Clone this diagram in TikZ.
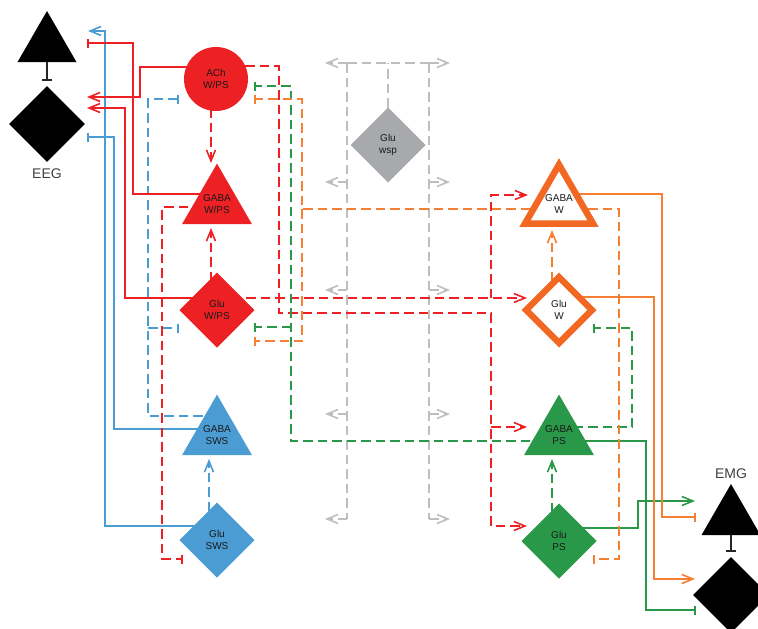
\documentclass[tikz,border=0pt]{standalone}
\usepackage{fontspec}
\setmainfont{Liberation Sans}
\usetikzlibrary{shapes.geometric,arrows.meta,calc}

\definecolor{ntred}{RGB}{237,32,36}
\definecolor{ntblue}{RGB}{75,156,211}
\definecolor{ntgreen}{RGB}{41,152,72}
\definecolor{ntorange}{RGB}{242,104,34}
\definecolor{ntorangeln}{RGB}{245,128,52}
\definecolor{ntgray}{RGB}{167,169,172}
\definecolor{ntgrayln}{RGB}{190,190,190}

\newcommand{\cellfont}{\fontsize{10}{11.5}\selectfont}

\pgfdeclarelayer{back}
\pgfsetlayers{back,main}

\begin{document}
\begin{tikzpicture}[x=1pt,y=-1pt,
    trinode/.style={regular polygon,regular polygon sides=3,minimum size=80.8pt,
      inner sep=0pt,outer sep=0pt,align=center,font=\cellfont,text=black!90},
    dianode/.style={diamond,minimum width=75pt,minimum height=75pt,
      inner sep=0pt,outer sep=0pt,align=center,font=\cellfont,text=black!90},
    sol/.style={line width=1.8pt},
    dashln/.style={line width=1.8pt,dash pattern=on 9.5pt off 5pt},
    act/.style={-{Straight Barb[length=11pt,width=9pt,line width=1.6pt]}},
    inh/.style={-{Bar[width=9pt]}}]

    \useasboundingbox (0,0) rectangle (758,629);

    % EEG and EMG
    \node[regular polygon,regular polygon sides=3,minimum size=68pt,fill=black,inner sep=0pt] (eegtri) at (47,45) {};
    \node[diamond,minimum width=76pt,minimum height=76pt,fill=black,inner sep=0pt] (eegdia) at (47,124) {};
    \node[font=\fontsize{14}{16}\selectfont,text=black!75] (eeglbl) at (47,174) {EEG};
    \node[regular polygon,regular polygon sides=3,minimum size=68pt,fill=black,inner sep=0pt] (emgtri) at (731,518) {};
    \node[diamond,minimum width=76pt,minimum height=76pt,fill=black,inner sep=0pt] (emgdia) at (731,595) {};
    \node[font=\fontsize{14}{16}\selectfont,text=black!75] (emglbl) at (731,474) {EMG};
    \draw[sol,black!85,-{Bar[width=10pt]},shorten >=5pt] (eegtri) -- (eegdia);
    \draw[sol,black!85,-{Bar[width=10pt]},shorten >=5pt] (emgtri) -- (emgdia);

    \coordinate (eega) at (88,31);
    \coordinate (eegb) at (87,43);
    \coordinate (eegc) at (87,97);
    \coordinate (eegd) at (87,108);
    \coordinate (eege) at (87,137);
    \coordinate (emga) at (695,501);
    \coordinate (emgb) at (696,517);
    \coordinate (emgc) at (695,579);
    \coordinate (emgd) at (696,610);

    % cell groups
    \node[circle,minimum size=64pt,inner sep=0pt,fill=ntred,align=center,font=\cellfont,text=black!90] (ach) at (216,79) {ACh\\W/PS};
    \node[trinode,fill=ntred] (gabawps) at (217,204) {GABA\\W/PS};
    \node[dianode,fill=ntred] (gluwps) at (217,310) {Glu\\W/PS};
    \node[trinode,fill=ntblue] (gabasws) at (217,435) {GABA\\SWS};
    \node[dianode,fill=ntblue] (glusws) at (217,540) {Glu\\SWS};
    \node[dianode,fill=ntgray] (gluwsp) at (388,145) {Glu\\wsp};
    \node[trinode,minimum size=67.8pt,draw=ntorange,line width=6.5pt,fill=white] (gabaw) at (559,204) {GABA\\W};
    \node[dianode,minimum width=65.8pt,minimum height=65.8pt,draw=ntorange,line width=6.5pt,fill=white] (gluw) at (559,310) {Glu\\W};
    \node[trinode,fill=ntgreen] (gabaps) at (559,435) {GABA\\PS};
    \node[dianode,fill=ntgreen] (glups) at (559,541) {Glu\\PS};

    \begin{pgfonlayer}{back}
    % wsp
    \coordinate (wsptop) at (388,63);
    \coordinate (wspl) at (347,63);
    \coordinate (wspr) at (429,63);
    \draw[dashln,ntgrayln] (gluwsp) -- (wsptop);
    \draw[dashln,ntgrayln] (wspl) -- (wspr);
    \draw[dashln,ntgrayln] (wspl) -- ++(0,456);
    \draw[dashln,ntgrayln] (wspr) -- ++(0,456);
    \foreach \y in {0,119,227,351,456} {
        \draw[dashln,ntgrayln,act] ($(wspl)+(0,\y)$) -- ++(-22,0);
        \draw[dashln,ntgrayln,act] ($(wspr)+(0,\y)$) -- ++(21,0);
    }

    % SWS
    \draw[sol,ntblue,act] ($(glusws)+(0,-14)$) -| (105,31) -- (eega);
    \draw[sol,ntblue,inh] ($(gabasws)+(0,-6)$) -| (114,137) -- (eege);
    \draw[dashln,ntblue,inh] ($(gabasws)+(0,-19)$) -| (148,99) -- ($(ach)+(-37,20)$);
    \draw[dashln,ntblue,inh] (148,328) -- ($(gluwps)+(-38,18)$);
    \draw[dashln,ntblue,act] ($(glusws)+(-8,0)$) -- ($(gabasws)+(-8,24)$);

    % W/PS
    \draw[sol,ntred,inh] ($(gabawps)+(0,-10)$) -| (133,43) -- (eegb);
    \draw[sol,ntred,act] ($(ach)+(0,-12)$) -| (140,97) -- (eegc);
    \draw[sol,ntred,act] ($(gluwps)+(0,-12)$) -| (125,108) -- (eegd);
    \draw[dashln,ntred,act] ($(ach)+(-5,0)$) -- ($(gabawps)+(-6,-41)$);
    \draw[dashln,ntred,act] ($(gluwps)+(-6,0)$) -- ($(gabawps)+(-6,24)$);
    \draw[dashln,ntred,inh] ($(gabawps)+(0,3)$) -| (162,559) -- ($(glusws)+(-34,19)$);
    \draw[dashln,ntred,act] ($(gluwps)+(0,-12)$) -- ($(gluw)+(-32,-12)$);
    \draw[dashln,ntred,act] (491,298) |- ($(gabaw)+(-31,-9)$);
    \draw[dashln,ntred,act] ($(ach)+(0,-13)$) -| (279,313) -| (491,526) -- ($(glups)+(-32,-15)$);
    \draw[dashln,ntred,act] (491,427) -- ($(gabaps)+(-32,-8)$);

    % PS
    \draw[dashln,ntgreen,inh] ($(gabaps)+(0,6)$) -| (291,86) -- ($(ach)+(38,7)$);
    \draw[dashln,ntgreen,inh] (291,327) -- ($(gluwps)+(37,17)$);
    \draw[dashln,ntgreen,inh] ($(gabaps)+(0,-8)$) -| (632,328) -- ($(gluw)+(34,18)$);
    \draw[dashln,ntgreen,act] ($(glups)+(-7,0)$) -- ($(gabaps)+(-7,24)$);
    \draw[sol,ntgreen,inh] ($(gabaps)+(0,6)$) -| (646,610) -- (emgd);
    \draw[sol,ntgreen,act] ($(glups)+(0,-13)$) -| (638,501) -- (emga);

    % W
    \draw[dashln,ntorangeln,inh] ($(gabaw)+(0,5)$) -| (302,99) -- ($(ach)+(38,20)$);
    \draw[dashln,ntorangeln,inh] (302,209) |- ($(gluwps)+(37,31)$);
    \draw[dashln,ntorangeln,inh] ($(gabaw)+(0,5)$) -| (619,559) -- ($(glups)+(34,18)$);
    \draw[dashln,ntorangeln,act] ($(gluw)+(-7,0)$) -- ($(gabaw)+(-7,26)$);
    \draw[sol,ntorangeln,inh] ($(gabaw)+(0,-10)$) -| (662,517) -- (emgb);
    \draw[sol,ntorangeln,act] ($(gluw)+(0,-13)$) -| (654,579) -- (emgc);
    \end{pgfonlayer}
\end{tikzpicture}
\end{document}
